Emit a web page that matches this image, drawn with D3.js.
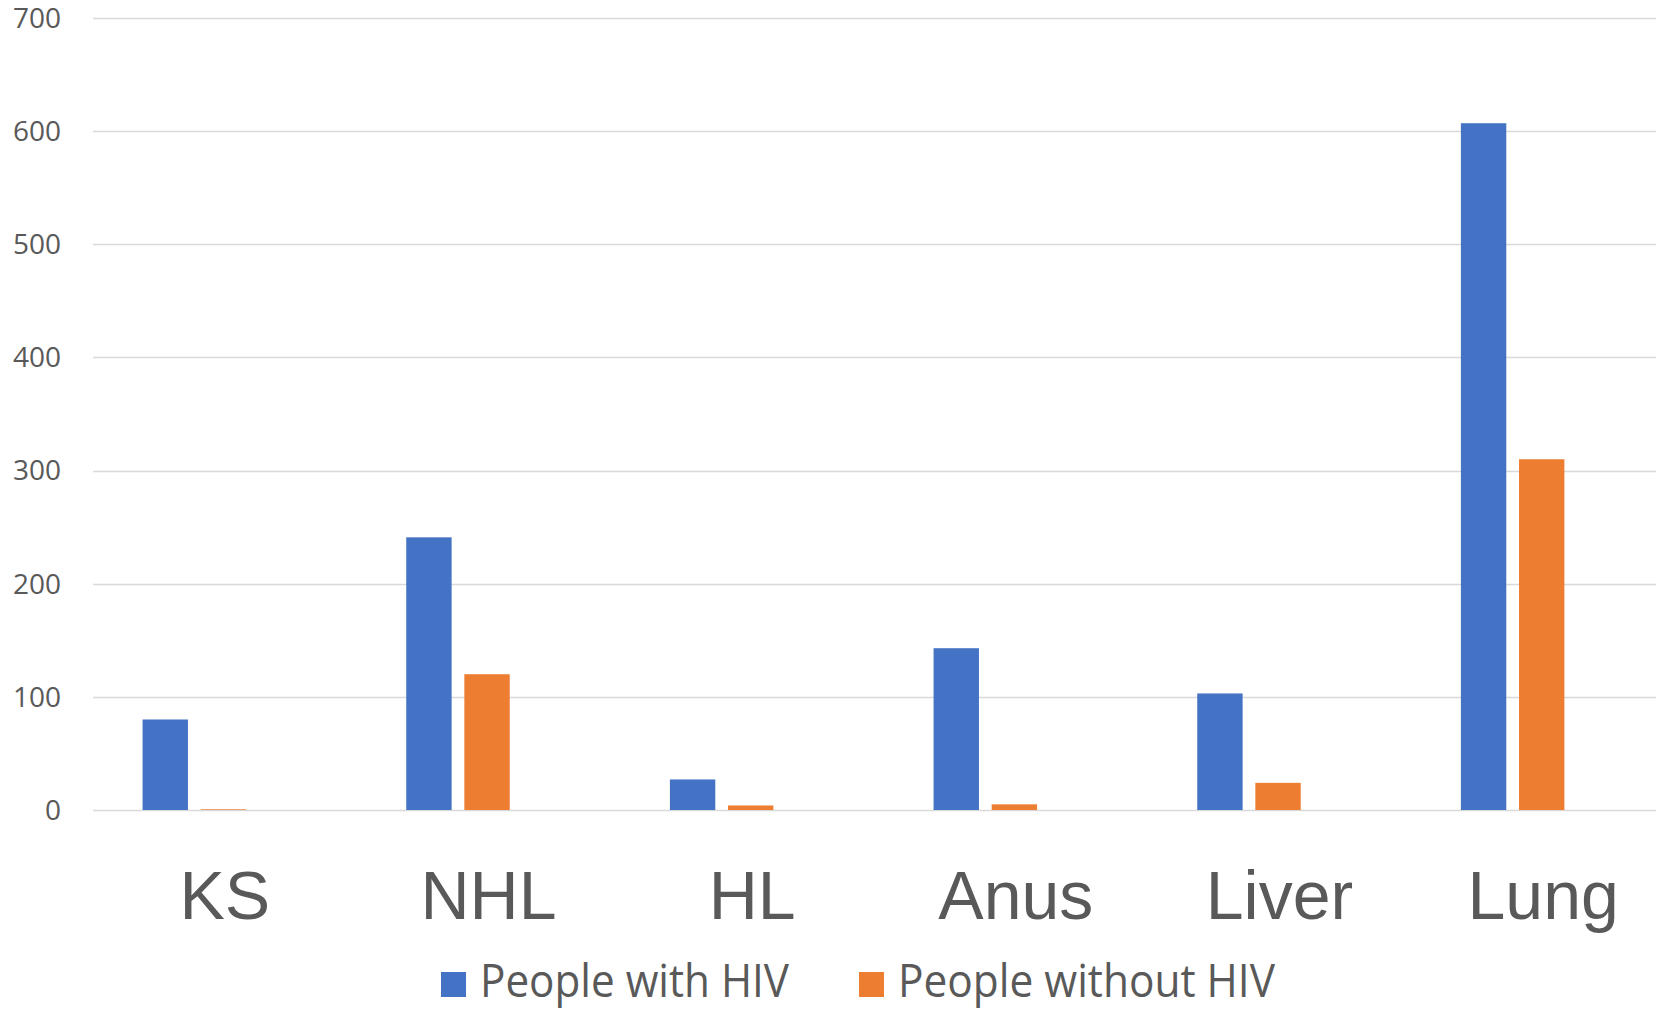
<!DOCTYPE html>
<html lang="en">
<head>
    <meta charset="UTF-8">
    <title>Cancer rates: people with and without HIV</title>
    <script src="https://d3js.org/d3.v7.min.js"></script>
    <style>
        body {
            margin: 0;
            background: #fff;
        }
        .grid line {
            stroke: #d9d9d9;
            stroke-width: 1.5;
        }
        .tick-label {
            font-family: "Open Sans", sans-serif;
            font-size: 28px;
            fill: #595959;
        }
        .cat-label {
            font-family: "Liberation Sans", Arial, sans-serif;
            font-size: 68px;
            fill: #595959;
        }
        .legend-text {
            font-family: "Open Sans", sans-serif;
            font-size: 46px;
            fill: #595959;
        }
    </style>
</head>
<body>
    <svg id="chart" width="1656" height="1010"></svg>
    <script>
        // Data
        const categories = ["KS", "NHL", "HL", "Anus", "Liver", "Lung"];
        const seriesNames = ["People with HIV", "People without HIV"];
        const withHIV = [80, 241, 27, 143, 103, 607];
        const withoutHIV = [0.6, 120, 4, 5, 24, 310];
        const yTicks = [0, 100, 200, 300, 400, 500, 600, 700];
        const colors = ["#4472c4", "#ed7d31"];

        const svg = d3.select("#chart");

        // plot area (the last band runs past the right edge, as in the picture)
        const x = d3.scaleBand()
            .domain(categories)
            .range([93, 1675]);

        const y = d3.scaleLinear()
            .domain([0, 700])
            .range([810, 18]);

        // bars sit in the left part of each band
        const bw = x.bandwidth();
        const x1 = d3.scaleBand()
            .domain(seriesNames)
            .range([bw * 0.188, bw * 0.188 + bw * 0.3925])
            .paddingInner(0.219);

        // gridlines
        svg.append("g")
            .attr("class", "grid")
            .selectAll("line")
            .data(yTicks)
            .join("line")
            .attr("x1", 93)
            .attr("x2", 1656)
            .attr("y1", d => Math.round(y(d)) + 0.5)
            .attr("y2", d => Math.round(y(d)) + 0.5);

        // y tick labels
        svg.append("g")
            .selectAll("text")
            .data(yTicks)
            .join("text")
            .attr("class", "tick-label")
            .attr("x", 61)
            .attr("y", d => y(d))
            .attr("dy", "0.35em")
            .attr("text-anchor", "end")
            .text(d => d);

        // bars
        const rows = categories.map((c, i) => ({
            cat: c,
            values: [withHIV[i], withoutHIV[i]]
        }));

        const groups = svg.append("g")
            .selectAll("g")
            .data(rows)
            .join("g")
            .attr("transform", d => `translate(${x(d.cat)},0)`);

        groups.selectAll("rect")
            .data(d => d.values.map((v, j) => ({ name: seriesNames[j], value: v, j })))
            .join("rect")
            .attr("x", d => x1(d.name))
            .attr("y", d => y(d.value))
            .attr("width", x1.bandwidth())
            .attr("height", d => y(0) - y(d.value))
            .attr("fill", d => colors[d.j]);

        // category labels
        svg.append("g")
            .selectAll("text")
            .data(categories)
            .join("text")
            .attr("class", "cat-label")
            .attr("x", d => x(d) + bw / 2)
            .attr("y", 919)
            .attr("text-anchor", "middle")
            .text(d => d);

        // legend
        const legendItems = [
            { name: seriesNames[0], sx: 441, tx: 480, tw: 309 },
            { name: seriesNames[1], sx: 859, tx: 898, tw: 377 }
        ];
        const legend = svg.append("g");
        legend.selectAll("rect")
            .data(legendItems)
            .join("rect")
            .attr("x", d => d.sx)
            .attr("y", 972)
            .attr("width", 25)
            .attr("height", 25)
            .attr("fill", (d, i) => colors[i]);
        legend.selectAll("text")
            .data(legendItems)
            .join("text")
            .attr("class", "legend-text")
            .attr("x", d => d.tx)
            .attr("y", 997)
            .attr("textLength", d => d.tw)
            .attr("lengthAdjust", "spacingAndGlyphs")
            .text(d => d.name);
    </script>
</body>
</html>
